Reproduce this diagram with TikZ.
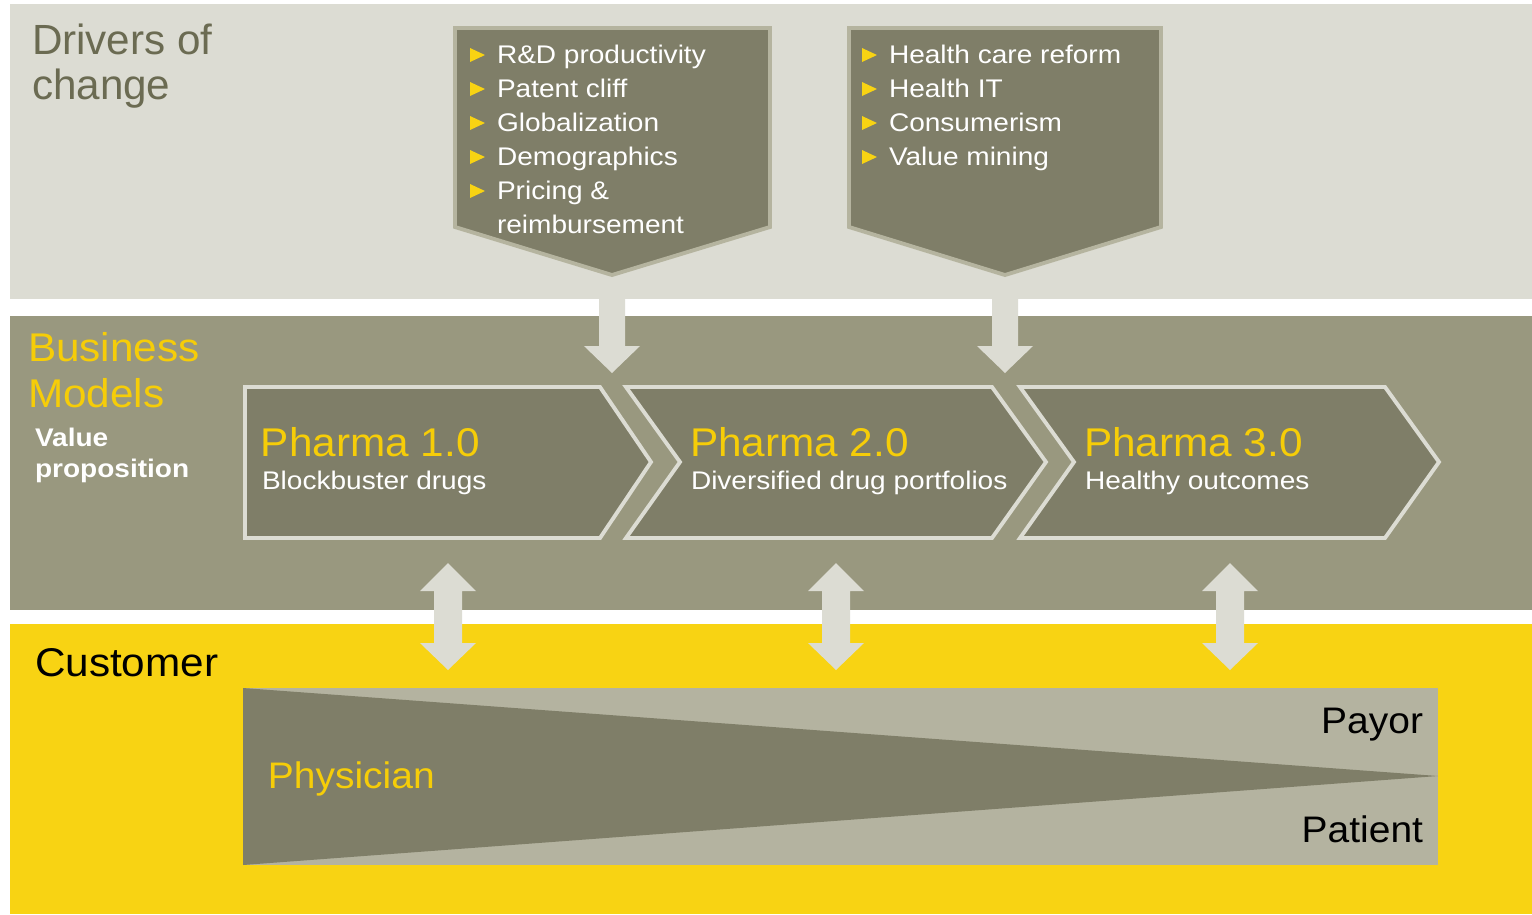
\documentclass[tikz,border=0pt]{standalone}
\usepackage{fontspec}
\setmainfont{Liberation Sans}[FakeStretch=1.055]
\newfontfamily\plainsans{Liberation Sans}
\newfontfamily\smallsans{Liberation Sans}[FakeStretch=1.1]
\usetikzlibrary{positioning}

\definecolor{bandlight}{HTML}{DCDCD3}
\definecolor{bandmid}{HTML}{99987F}
\definecolor{olive}{HTML}{7F7E68}
\definecolor{oliveedge}{HTML}{B5B49F}
\definecolor{sun}{HTML}{F8D313}
\definecolor{suntext}{HTML}{F6CD08}
\definecolor{sand}{HTML}{B4B3A0}
\definecolor{drivertext}{HTML}{6B6B52}

\begin{document}
\begin{tikzpicture}[x=0.01cm, y=-0.01cm,
	every node/.style={inner sep=0pt, outer sep=0pt},
	heading/.style={font=\fontsize{11.4}{13.1}\selectfont, align=left},
	listtext/.style={font=\smallsans\fontsize{7.25}{9.7}\selectfont, text=white, anchor=base west},
	boxtitle/.style={font=\fontsize{11.4}{13.1}\selectfont, text=suntext, anchor=base west},
	boxsub/.style={font=\smallsans\fontsize{7.25}{9.7}\selectfont, text=white, anchor=base west},
	funnel/.style={font=\fontsize{10.5}{12}\selectfont}]
	\useasboundingbox (0,0) rectangle (1532,914);
	\fill[white] (0,0) rectangle (1532,914);
	% three bands
	\fill[bandlight] (10,4) rectangle (1532,299);
	\fill[bandmid] (10,316) rectangle (1532,610);
	\fill[sun] (10,624) rectangle (1532,914);

	% arrows from the drivers down to the business models
	\foreach \cx in {612,1005}
		\fill[bandlight] (\cx-13,260) -- (\cx+13,260) -- (\cx+13,346) -- (\cx+28,346) -- (\cx,373) -- (\cx-28,346) -- (\cx-13,346) -- cycle;

	% drivers of change
	\node[heading, text=drivertext, font=\plainsans\fontsize{12}{12.8}\selectfont, anchor=north west] (drivers) at (32,24) {Drivers of\\change};
	\draw[fill=olive, draw=oliveedge, line width=1.1pt] (455,28) -- (770,28) -- (770,227) -- (612,275) -- (455,227) -- cycle;
	\draw[fill=olive, draw=oliveedge, line width=1.1pt] (849,28) -- (1161,28) -- (1161,227) -- (1005,275) -- (849,227) -- cycle;
	\foreach \txt [count=\i] in {R\&D productivity, Patent cliff, Globalization, Demographics, Pricing \&} {
		\fill[sun] (470,63+34*\i-34-15) -- (485,63+34*\i-34-8) -- (470,63+34*\i-34-1) -- cycle;
		\node[listtext] (drvA\i) at (497,63+34*\i-34) {\txt};
	}
	\node[listtext] (drvA6) at (497,233) {reimbursement};
	\foreach \txt [count=\i] in {Health care reform, Health IT, Consumerism, Value mining} {
		\fill[sun] (862,63+34*\i-34-15) -- (877,63+34*\i-34-8) -- (862,63+34*\i-34-1) -- cycle;
		\node[listtext] (drvB\i) at (889,63+34*\i-34) {\txt};
	}

	% business models
	\node[heading, text=suntext, anchor=north west] (business) at (28,332) {Business\\Models};
	\node[font=\smallsans\fontsize{7.25}{8.8}\selectfont\bfseries, text=white, align=left, anchor=north west] (value) at (35,428) {Value\\proposition};
	\draw[fill=olive, draw=bandlight, line width=1.1pt] (245,387) -- (600,387) -- (651,462) -- (600,538) -- (245,538) -- cycle;
	\draw[fill=olive, draw=bandlight, line width=1.1pt] (626,387) -- (992,387) -- (1046,462) -- (992,538) -- (626,538) -- (680,462) -- cycle;
	\draw[fill=olive, draw=bandlight, line width=1.1pt] (1020,387) -- (1385,387) -- (1439,462) -- (1385,538) -- (1020,538) -- (1074,462) -- cycle;
	\node[boxtitle] (pharmaA) at (261,456) {Pharma 1.0};
	\node[boxsub] (subA) at (262,489) {Blockbuster drugs};
	\node[boxtitle] (pharmaB) at (690,456) {Pharma 2.0};
	\node[boxsub] (subB) at (691,489) {Diversified drug portfolios};
	\node[boxtitle] (pharmaC) at (1084,456) {Pharma 3.0};
	\node[boxsub] (subC) at (1085,489) {Healthy outcomes};

	% two-way arrows to the customer
	\foreach \cx in {448,836,1230}
		\fill[bandlight] (\cx,563) -- (\cx+28,591) -- (\cx+14,591) -- (\cx+14,643) -- (\cx+28,643) -- (\cx,670) -- (\cx-28,643) -- (\cx-14,643) -- (\cx-14,591) -- (\cx-28,591) -- cycle;

	% customer
	\node[heading, anchor=base west] (customer) at (35,676) {Customer};
	\fill[sand] (243,688) rectangle (1438,865);
	\fill[olive] (243,688) -- (1438,776) -- (243,865) -- cycle;
	\node[funnel, text=suntext, anchor=base west] (physician) at (268,788) {Physician};
	\node[funnel, anchor=base east] (payor) at (1423,733) {Payor};
	\node[funnel, anchor=base east] (patient) at (1423,842) {Patient};
\end{tikzpicture}
\end{document}
